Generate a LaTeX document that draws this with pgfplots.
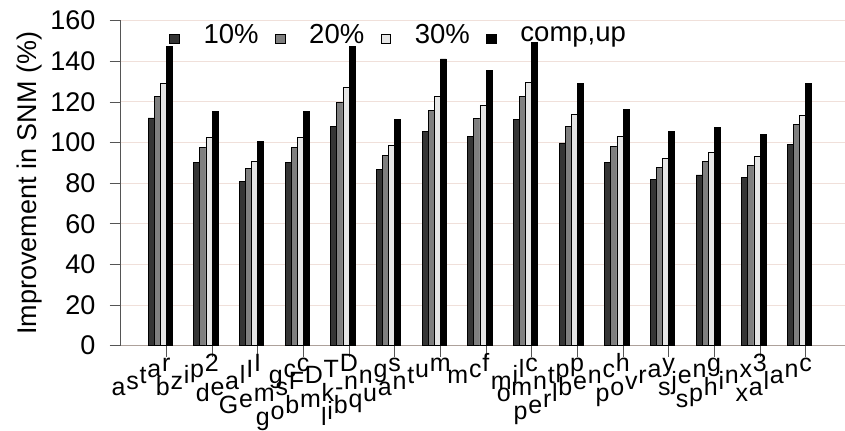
\documentclass[border=0pt]{standalone}
\usepackage{pgfplots}
\usepackage{pgfplotstable}
\pgfplotsset{compat=1.18}
\usepackage{fontspec}
\setmainfont{Liberation Sans}
\definecolor{cA}{HTML}{353535}
\definecolor{cB}{HTML}{7F7F7F}
\definecolor{cC}{HTML}{E6E6E6}
\definecolor{gridpink}{HTML}{F0E0DA}
\definecolor{axisbrown}{HTML}{ADA19B}
\definecolor{tickgray}{HTML}{555555}
\makeatletter
\newcount\dgn \newcount\dgi
\newlength\dgw
\newcommand\diag[1]{%
  \dgn=0 \@tfor\dg@c:=#1\do{\advance\dgn by 1 }%
  \dgi=0
  \@tfor\dg@c:=#1\do{%
    \advance\dgi by 1 
    \ifnum\dgi<\dgn
      \raisebox{\dimexpr -6bp*\numexpr\dgn-\dgi\relax\relax}{\dg@c}\kern0.8bp
    \else
      \settowidth\dgw{\dg@c}\kern0.5\dgw\makebox[0pt]{\dg@c}%
    \fi}}
\makeatother
\pgfplotstableread{
x d10 d20 d30 comp
0 112.1 122.7 129.3 147.4
1 90.2 97.5 102.4 115.2
2 80.9 87.1 90.7 100.4
3 90.2 97.5 102.4 115.2
4 107.8 119.8 127.2 147.4
5 86.6 93.8 98.8 111.3
6 105.3 115.9 122.9 141.2
7 102.9 111.9 118.3 135.4
8 111.6 122.7 129.8 149.2
9 99.8 107.8 113.7 129.3
10 90.4 98.3 103.2 116.2
11 81.7 87.9 92.0 105.3
12 84.1 90.9 95.3 107.3
13 82.8 88.9 93.0 104.2
14 98.9 108.8 113.4 129.3
}\datatable
\begin{document}
\begin{tikzpicture}
\begin{axis}[
  at={(120.7bp,85.3bp)}, anchor=south west,
  scale only axis, width=724.3bp, height=325bp,
  xmin=-1, xmax=14.86, ymin=0, ymax=160,
  ytick={0,20,...,160},
  xtick={0,...,14},
  xticklabels={\diag{astar},\diag{bzip2},\diag{dealII},\diag{gcc},\diag{GemsFDTD},\diag{gobmk-nngs},\diag{libquantum},\diag{mcf},\diag{milc},\diag{omntpp},\diag{perlbench},\diag{povray},\diag{sjeng},\diag{sphinx3},\diag{xalanc}},
  ymajorgrids, grid style={color=gridpink, line width=0.9bp},
  axis x line*=bottom, axis y line*=left,
  x axis line style={color=axisbrown, line width=1.1bp, -},
  y axis line style={color=tickgray, line width=0.8bp, -},
  tick align=outside, major tick length=11bp,
  tick style={color=tickgray, line width=0.8bp},
  /pgf/number format/assume math mode=true,
  yticklabel style={font=\fontsize{27bp}{30bp}\selectfont, inner sep=0pt, anchor=east, xshift=-14bp},
  xticklabel style={font=\fontsize{25bp}{30bp}\selectfont, inner sep=0pt, anchor=base east, yshift=-15bp},
  ylabel={Improvement in SNM (\%)},
  every axis y label/.style={at={(axis description cs:-0.1257,0.5)}, rotate=90, anchor=center, font=\fontsize{27bp}{32bp}\selectfont},
  ybar, bar width=6.1bp,
  legend columns=4,
  legend image code/.code={\draw[#1,line width=0.6bp] (0bp,-8.5bp) rectangle (9.5bp,1bp);},
  legend style={draw=none, fill=none, at={(axis description cs:0.0671,0.956)}, anchor=west, inner sep=0pt,
    font=\fontsize{27.5bp}{30bp}\selectfont,
    /tikz/every odd column/.append style={column sep=22bp},
    /tikz/every even column/.append style={column sep=14.5bp}},
]
\addplot[fill=cA, draw=black, line width=0.7bp, bar shift=-15.3bp] table[x=x,y=d10] {\datatable};
\addplot[fill=cB, draw=black, line width=0.7bp, bar shift=-9.2bp] table[x=x,y=d20] {\datatable};
\addplot[fill=cC, draw=black, line width=0.7bp, bar shift=-3.05bp] table[x=x,y=d30] {\datatable};
\addplot[fill=black, draw=black, line width=0.7bp, bar shift=3.05bp] table[x=x,y=comp] {\datatable};
\legend{10\%,20\%,30\%,{comp,up}}
\end{axis}
\pgfresetboundingbox
\path[use as bounding box] (0,0) rectangle (845bp,431bp);
\end{tikzpicture}
\end{document}
